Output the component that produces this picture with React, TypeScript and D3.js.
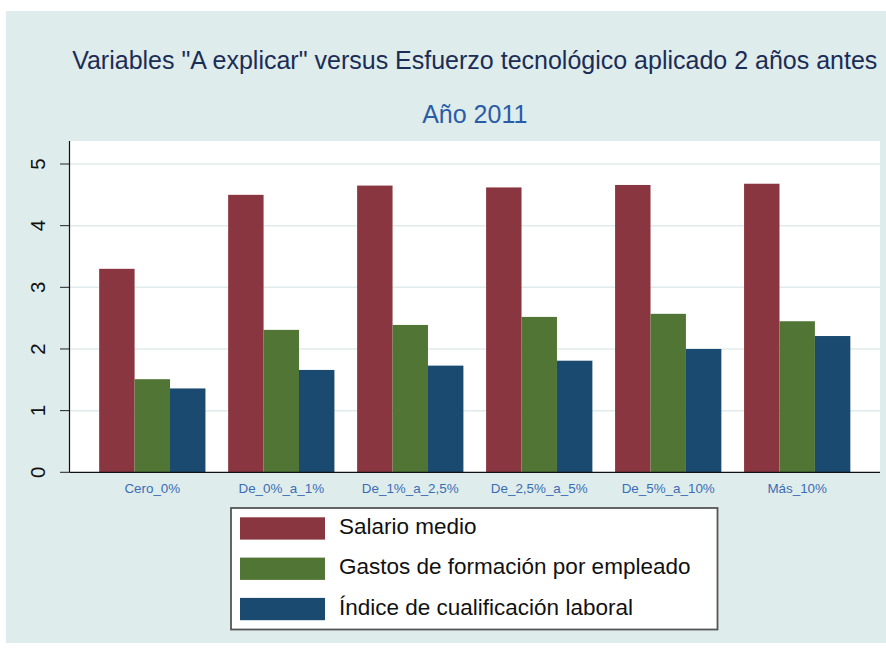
import React from "react";
import * as d3 from "d3";

const categories = ["Cero_0%", "De_0%_a_1%", "De_1%_a_2,5%", "De_2,5%_a_5%", "De_5%_a_10%", "Más_10%"];
const seriesNames = ["Salario medio", "Gastos de formación por empleado", "Índice de cualificación laboral"];
const salario = [3.30, 4.50, 4.65, 4.62, 4.66, 4.68];
const gastos = [1.51, 2.31, 2.39, 2.52, 2.57, 2.45];
const indice = [1.36, 1.66, 1.73, 1.81, 2.00, 2.21];
const yTicks = [0, 1, 2, 3, 4, 5];
const colors = ["#8a3640", "#517535", "#1a4a70"];

const W = 886, H = 652;
const plot = { left: 69.5, right: 880, top: 141, bottom: 472.3 };

export default function App() {
  const series = [salario, gastos, indice];
  const x = d3.scaleBand<string>().domain(categories).range([plot.left, plot.right]).paddingInner(0.176).paddingOuter(0.23);
  const x1 = d3.scaleBand<number>().domain([0, 1, 2]).range([0, x.bandwidth()]).padding(0);
  const y = d3.scaleLinear().domain([0, 5]).range([plot.bottom, 164]);
  const font = "'Liberation Sans', Arial, sans-serif";
  const cx = (plot.left + plot.right) / 2;
  return (
    <svg width={W} height={H} style={{ position: "absolute", left: 0, top: 0 }} fontFamily={font}>
      <rect x={0} y={0} width={W} height={H} fill="#ffffff" />
      <rect x={6} y={11} width={W - 6} height={643 - 11} fill="#dfecec" />
      <rect x={plot.left} y={plot.top} width={plot.right - plot.left} height={plot.bottom - plot.top} fill="#ffffff" />
      {yTicks.map((t) => (
        <g key={t}>
          {t > 0 && <line x1={plot.left} x2={plot.right} y1={y(t)} y2={y(t)} stroke="#e0ebeb" strokeWidth={1.5} />}
          <line x1={60} x2={plot.left} y1={y(t)} y2={y(t)} stroke="#222" strokeWidth={1} />
          <text transform={`translate(45,${y(t)}) rotate(-90)`} textAnchor="middle" fontSize={20.5} fill="#111">{t}</text>
        </g>
      ))}
      {categories.map((c, i) => (
        <g key={c}>
          {series.map((s, j) => (
            <rect key={j} x={(x(c) as number) + (x1(j) as number)} y={y(s[i])} width={x1.bandwidth()} height={plot.bottom - y(s[i])} fill={colors[j]} />
          ))}
          <text x={(x(c) as number) + x.bandwidth() / 2} y={493} textAnchor="middle" fontSize={13.4} fill="#3a6cb5">{c}</text>
        </g>
      ))}
      <line x1={plot.left} x2={plot.left} y1={plot.top} y2={plot.bottom} stroke="#111" strokeWidth={1.2} />
      <line x1={plot.left} x2={plot.right} y1={plot.bottom} y2={plot.bottom} stroke="#111" strokeWidth={1.2} />
      <text x={cx} y={68.5} textAnchor="middle" fontSize={25} fill="#1b2d55">Variables "A explicar" versus Esfuerzo tecnológico aplicado 2 años antes</text>
      <text x={cx} y={122.5} textAnchor="middle" fontSize={25} fill="#2a5ca8">Año 2011</text>
      <rect x={231} y={508} width={486.5} height={121.5} fill="#ffffff" stroke="#555" strokeWidth={1.8} />
      {seriesNames.map((n, j) => (
        <g key={n}>
          <rect x={240} y={517.3 + j * 40.3} width={85} height={22.3} fill={colors[j]} />
          <text x={339} y={534 + j * 40.3} fontSize={22.5} fill="#111">{n}</text>
        </g>
      ))}
    </svg>
  );
}
